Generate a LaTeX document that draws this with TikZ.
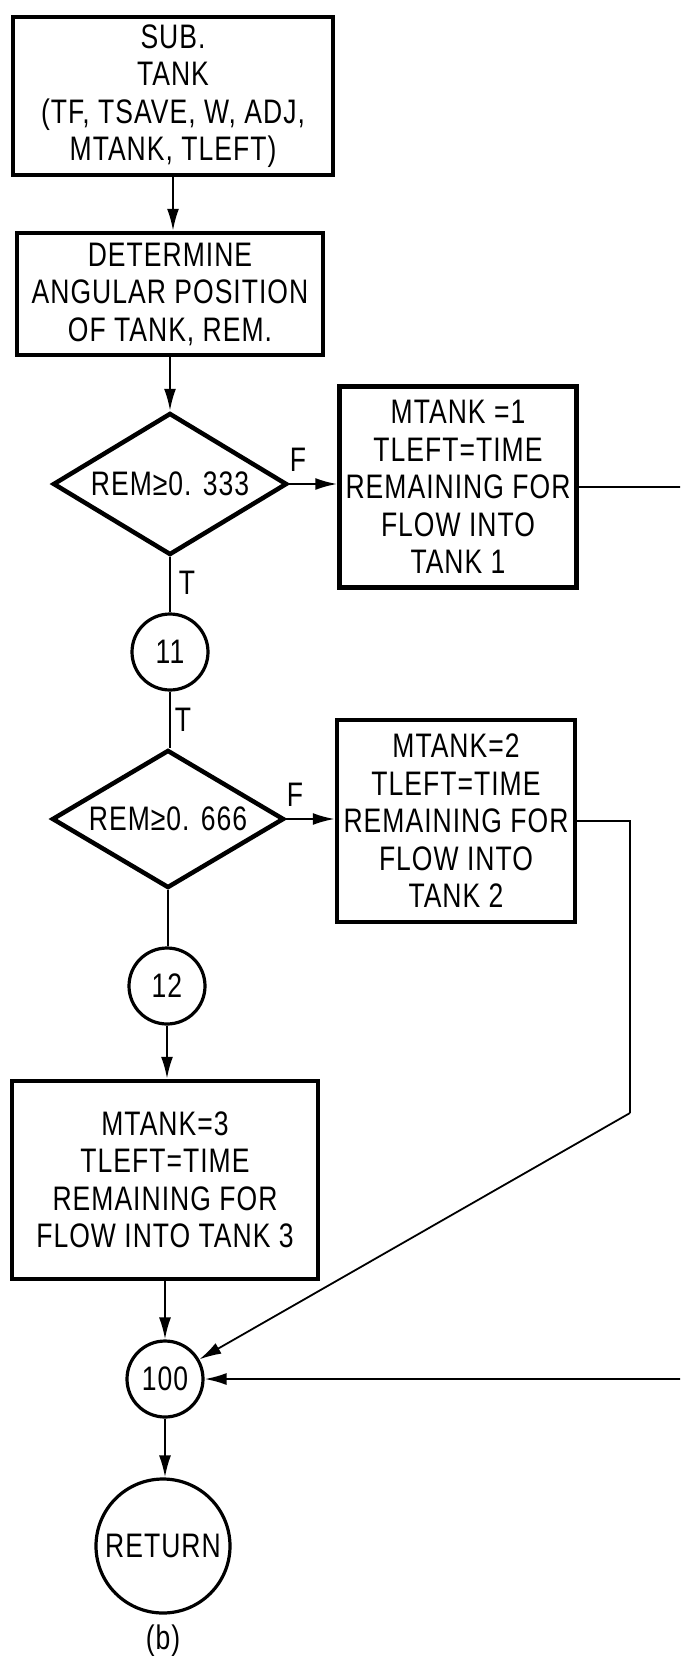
\documentclass[tikz,border=0pt]{standalone}
\usepackage{fontspec}
\newfontfamily\cf{Liberation Sans}[FakeStretch=0.78,LetterSpace=3]
\usetikzlibrary{shapes.geometric,arrows.meta}
\begin{document}
\begin{tikzpicture}[x=1pt,y=-1pt,
  every node/.style={font=\cf\fontsize{34}{37.5}\selectfont},
  box/.style={draw, line width=4.5pt, rectangle, align=center, inner sep=0pt},
  dia/.style={draw, diamond, line width=4.5pt, aspect=1.65, inner sep=0pt},
  conn/.style={draw, circle, line width=3.2pt, inner sep=0pt, minimum size=76pt},
  plain/.style={line width=2.2pt},
  thinline/.style={line width=1.8pt},
  arr/.style={line width=2.2pt, -{Latex[length=22pt,width=12pt]}},
  lbl/.style={inner sep=0pt}
]
\clip (0,0) rectangle (680,1656);
\useasboundingbox (0,0) rectangle (680,1656);

\node[box, minimum width=320pt, minimum height=158pt] (box1) at (173,96)
  {SUB.\\TANK\\(TF, TSAVE, W, ADJ,\\MTANK, TLEFT)};
\node[box, minimum width=306pt, minimum height=122pt] (box2) at (170,294)
  {DETERMINE\\ANGULAR POSITION\\OF TANK, REM.};
\node[dia, minimum width=234pt, minimum height=142pt] (dia1) at (170,484) {REM≥0. 333};
\node[box, minimum width=237pt, minimum height=201pt] (box3) at (458,487)
  {MTANK =1\\TLEFT=TIME\\REMAINING FOR\\FLOW INTO\\TANK 1};
\node[conn] (c11) at (170,652) {11};
\node[dia, minimum width=232pt, minimum height=138pt] (dia2) at (168,819) {REM≥0. 666};
\node[box, minimum width=238pt, minimum height=202pt] (box4) at (456,821)
  {MTANK=2\\TLEFT=TIME\\REMAINING FOR\\FLOW INTO\\TANK 2};
\node[conn] (c12) at (167,986) {12};
\node[box, minimum width=306pt, minimum height=198pt] (box5) at (165,1180)
  {MTANK=3\\TLEFT=TIME\\REMAINING FOR\\FLOW INTO TANK 3};
\node[conn] (c100) at (165,1379) {100};
\node[conn, minimum size=134pt] (ret) at (163,1546) {RETURN};
\node[lbl] (cap) at (163,1641) {(b)};

\node[lbl] (f1) at (298,460) {F};
\node[lbl] (t1) at (187,583) {T};
\node[lbl] (t2) at (183,720) {T};
\node[lbl] (f2) at (295,795) {F};

\coordinate (r2) at (630,1113);

\draw[arr] (box1.south) -- (box1.south |- box2.north);
\draw[arr] (box2.south) -- (box2.south |- dia1.north);
\draw[arr] (dia1.east) -- (dia1.east -| box3.west);
\draw[plain] (dia1.south) -- (dia1.south |- c11.north);
\draw[plain] (c11.south) -- (c11.south |- dia2.north);
\draw[arr] (dia2.east) -- (dia2.east -| box4.west);
\draw[plain] (dia2.south) -- (dia2.south |- c12.north);
\draw[arr] (c12.south) -- (c12.south |- box5.north);
\draw[arr] (box5.south) -- (box5.south |- c100.north);
\draw[arr] (c100.south) -- (c100.south |- ret.north);
\draw[arr] (box3.east) -- ++(260,0) |- (c100.east);
\draw[thinline] (box4.east) -| (r2);
\draw[thinline, -{Latex[length=22pt,width=12pt]}] (r2) -- (c100);
\end{tikzpicture}
\end{document}
